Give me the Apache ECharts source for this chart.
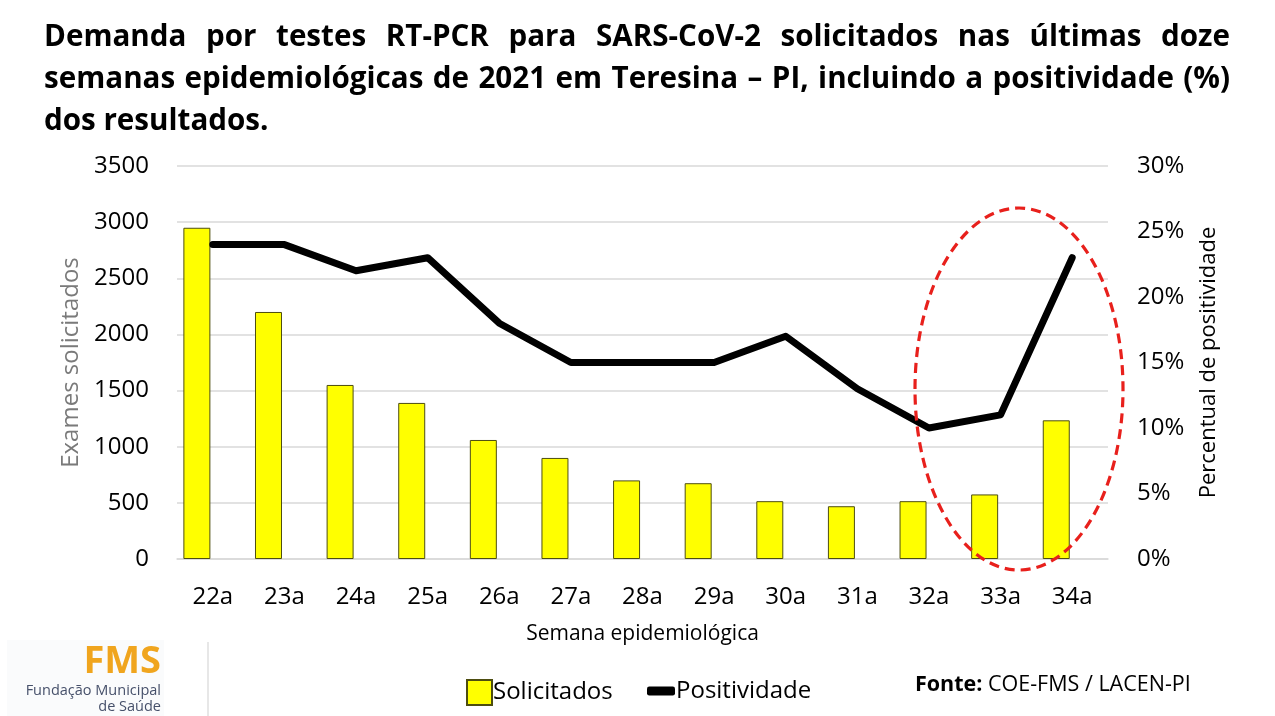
<!DOCTYPE html>
<html>
<head>
<meta charset="utf-8">
<script src="https://cdn.jsdelivr.net/npm/echarts@6.0.0/dist/echarts.min.js"></script>
<style>
  html, body { margin: 0; padding: 0; background: #fff; }
  #chart { width: 1275px; height: 716px; }
</style>
</head>
<body>
<div id="chart"></div>
<script>
// dados
var semanas = ['22a', '23a', '24a', '25a', '26a', '27a', '28a', '29a', '30a', '31a', '32a', '33a', '34a'];
var solicitados = [2950, 2200, 1550, 1390, 1060, 900, 700, 675, 515, 470, 515, 575, 1235];
var positividade = [24, 24, 22, 23, 18, 15, 15, 15, 17, 13, 10, 11, 23];
var ticksEsq = { min: 0, max: 3500, interval: 500 };
var ticksDir = { min: 0, max: 30, interval: 5 };

var tituloLinhas = [
  'Demanda por testes RT-PCR para SARS-CoV-2 solicitados nas últimas doze',
  'semanas epidemiológicas de 2021 em Teresina – PI, incluindo a positividade (%)',
  'dos resultados.'
];

var FONT = '"Open Sans", "Noto Sans", sans-serif';

(function() {
  var myChart = echarts.init(document.getElementById('chart'));

  // título justificado (como no slide original)
  var cv = document.createElement('canvas').getContext('2d');
  function largura(txt, size) {
    cv.font = 'bold ' + size + 'px ' + FONT;
    return cv.measureText(txt).width;
  }
  var tx0 = 44, tx1 = 1230, ys = [43, 85, 127];
  var fs = 27 * 230 / largura('dos resultados.', 27);
  var natural = largura(tituloLinhas[1], fs);
  if (natural > (tx1 - tx0) - 20) fs = fs * ((tx1 - tx0) - 20) / natural;
  var graficos = [];
  tituloLinhas.forEach(function(linha, i) {
    var palavras = linha.split(' ');
    var gap = largura(' ', fs);
    if (i < tituloLinhas.length - 1) {
      var soma = 0;
      palavras.forEach(function(p) { soma += largura(p, fs); });
      gap = ((tx1 - tx0) - soma) / (palavras.length - 1);
    }
    var x = tx0;
    palavras.forEach(function(p) {
      graficos.push({
        type: 'text', left: x, top: ys[i] - fs * 0.7,
        style: { text: p, fill: '#000', font: 'bold ' + fs.toFixed(1) + 'px ' + FONT }
      });
      x += largura(p, fs) + gap;
    });
  });

  // elipse tracejada destacando as últimas semanas
  graficos.push({
    type: 'ellipse', z: 100,
    shape: { cx: 1019, cy: 389, rx: 104, ry: 181 },
    style: { fill: 'none', stroke: '#e8201c', lineWidth: 3.2, lineDash: [10, 6] }
  });

  // logo FMS
  graficos.push(
    { type: 'rect', shape: { x: 7, y: 640, width: 157, height: 76 }, style: { fill: '#fafbfc' } },
    { type: 'text', right: 1275 - 161, top: 643,
      style: { text: 'FMS', fill: '#f0a51e', font: 'bold 38px ' + FONT } },
    { type: 'text', right: 1275 - 161, top: 683,
      style: { text: 'Fundação Municipal', fill: '#46506a', font: '14.5px ' + FONT } },
    { type: 'text', right: 1275 - 161, top: 699,
      style: { text: 'de Saúde', fill: '#46506a', font: '14.5px ' + FONT } },
    { type: 'line', shape: { x1: 208, y1: 642, x2: 208, y2: 716 },
      style: { stroke: '#cfcfcf', lineWidth: 1 } },
    { type: 'text', left: 915, top: 674,
      style: {
        text: '{b|Fonte:} COE-FMS / LACEN-PI',
        fill: '#000', font: '21.5px ' + FONT,
        rich: { b: { fontWeight: 'bold', fontSize: 21.5, fontFamily: FONT } }
      } }
  );

  var option = {
    textStyle: { fontFamily: FONT },
    animation: false,
    grid: { left: 177, right: 167, top: 166, bottom: 157 },
    legend: [
      {
        data: [{ name: 'Solicitados', icon: 'rect' }],
        left: 461, top: 674, itemWidth: 25, itemHeight: 25, itemGap: 0,
        textStyle: { fontSize: 24, color: '#000', padding: [0, 0, 0, -4] }
      },
      {
        data: [{ name: 'Positividade', icon: 'roundRect' }],
        left: 642, top: 674, itemWidth: 28, itemHeight: 9, itemGap: 0,
        textStyle: { fontSize: 24, color: '#000', padding: [0, 0, 0, -4] }
      }
    ],
    xAxis: {
      type: 'category',
      data: semanas,
      name: 'Semana epidemiológica',
      nameLocation: 'middle',
      nameGap: 65,
      nameTextStyle: { fontSize: 21, color: '#000' },
      axisLine: { lineStyle: { color: '#d9d9d9', width: 1.5 } },
      axisTick: { show: false },
      axisLabel: { fontSize: 24, color: '#000', margin: 26 }
    },
    yAxis: [
      {
        type: 'value',
        min: ticksEsq.min, max: ticksEsq.max, interval: ticksEsq.interval,
        name: 'Exames solicitados',
        nameLocation: 'middle',
        nameRotate: 90,
        nameGap: 94,
        nameTextStyle: { fontSize: 24, color: '#7a7a7a' },
        axisLine: { show: false },
        axisTick: { show: false },
        axisLabel: { fontSize: 24, color: '#000', margin: 28, formatter: function(v) { return String(v); } },
        splitLine: { lineStyle: { color: '#d9d9d9', width: 1.5 } }
      },
      {
        type: 'value',
        position: 'right',
        min: ticksDir.min, max: ticksDir.max, interval: ticksDir.interval,
        name: 'Percentual de positividade',
        nameLocation: 'middle',
        nameRotate: 90,
        nameGap: 90,
        nameTextStyle: { fontSize: 22, color: '#000' },
        axisLine: { show: false },
        axisTick: { show: false },
        axisLabel: { fontSize: 24, color: '#000', margin: 29, formatter: '{value}%' },
        splitLine: { show: false }
      }
    ],
    series: [
      {
        name: 'Solicitados',
        type: 'bar',
        data: solicitados,
        barWidth: 27,
        barGap: '18%',
        itemStyle: { color: '#ffff00', borderColor: '#4d4d10', borderWidth: 1 }
      },
      {
        // vaga vazia do agrupamento do Excel (desloca as barras para a esquerda)
        name: 'vazio',
        type: 'bar',
        data: [],
        barWidth: 27
      },
      {
        name: 'Positividade',
        type: 'line',
        yAxisIndex: 1,
        data: positividade,
        symbol: 'none',
        z: 5,
        itemStyle: { color: '#000' },
        lineStyle: { color: '#000', width: 7, cap: 'round', join: 'round' }
      }
    ],
    graphic: graficos
  };
  myChart.setOption(option);
})();
</script>
</body>
</html>
